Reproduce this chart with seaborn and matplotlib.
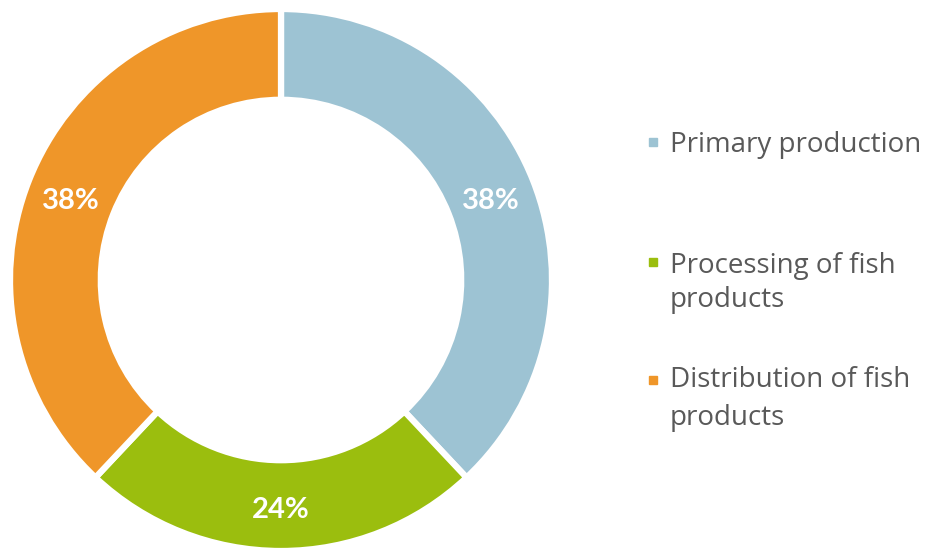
import matplotlib
matplotlib.use("Agg")
import matplotlib.pyplot as plt
import seaborn as sns
import numpy as np

categories = ["Primary production", "Processing of fish products", "Distribution of fish products"]
legend_lines = [["Primary production"], ["Processing of fish", "products"], ["Distribution of fish", "products"]]
shares = [38, 24, 38]
colors = ["#9DC3D3", "#9BBE0E", "#EF9629"]

sns.set_theme(style="white")
plt.rcParams['font.family'] = ['Lato', 'DejaVu Sans']

W, H = 937, 548
fig = plt.figure(figsize=(W / 100, H / 100), dpi=100)
fig.patch.set_facecolor("white")

cx, cy, R = 281, 280, 271
ax = fig.add_axes([(cx - R) / W, (H - cy - R) / H, 2 * R / W, 2 * R / H])

palette = sns.color_palette(colors)
ring = 0.335
wedges, texts = ax.pie(
    shares, colors=palette, startangle=90, counterclock=False, radius=1.0,
    wedgeprops=dict(width=ring, edgecolor="white", linewidth=4.5),
)
ax.set_xlim(-1, 1)
ax.set_ylim(-1, 1)
ax.set_aspect("equal")
ax.axis("off")

for w, v in zip(wedges, shares):
    mid = np.deg2rad((w.theta1 + w.theta2) / 2)
    r = 1.0 - ring / 2
    ax.text(r * np.cos(mid), r * np.sin(mid) - 0.016, f"{v}%", ha="center", va="center",
            color="white", fontsize=21, fontweight="bold")

# legend
marker_y = [142, 262, 380]
baselines = [[152], [273, 307], [387, 425]]
for lines, col, my, bls in zip(legend_lines, colors, marker_y, baselines):
    fig.patches.append(plt.Rectangle((649 / W, (H - my - 4) / H), 8 / W, 8 / H,
                                     transform=fig.transFigure, color=col, figure=fig))
    for line, bl in zip(lines, bls):
        fig.text(670 / W, (H - bl) / H, line, ha="left", va="baseline",
                 color="#595959", fontsize=20, family=['Open Sans', 'DejaVu Sans'])

fig.savefig("out.png", dpi=100, facecolor="white")
